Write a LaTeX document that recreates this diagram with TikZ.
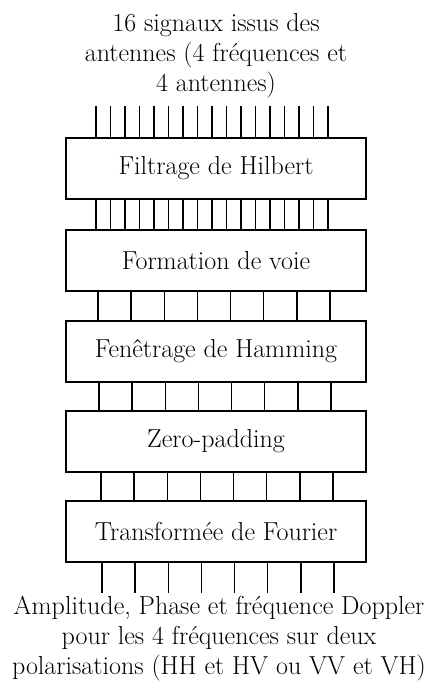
\documentclass[tikz,border=0pt]{standalone}
\begin{document}
\begin{tikzpicture}[x=1pt,y=-1pt,
  box/.style={draw,line width=1.8pt,minimum width=300pt,minimum height=61pt,inner sep=0pt,font=\fontsize{26}{30}\selectfont},
  txt/.style={align=center,inner sep=0pt,font=\fontsize{26}{30}\selectfont},
  tick/.style={line width=1.6pt}]
\useasboundingbox (0,0) rectangle (438,687);
\node[txt,anchor=north] (title) at (216,13) {16 signaux issus des\\antennes (4 fréquences et\\4 antennes)};
\node[box] (b1) at (216,168.5) {Filtrage de Hilbert};
\node[box] (b2) at (216,260.5) {Formation de voie};
\node[box] (b3) at (216,351.5) {Fenêtrage de Hamming};
\node[box] (b4) at (216,441.5) {Zero-padding};
\node[box] (b5) at (216,531.5) {Transformée de Fourier};
\node[txt,anchor=north] (out) at (219,596) {Amplitude, Phase et fréquence Doppler\\pour les 4 fréquences sur deux\\polarisations (HH et HV ou VV et VH)};
% 17 input lines
\foreach \k in {0,...,16}{
  \draw[tick] ([xshift=31pt+14.5pt*\k]b1.north west) -- ++(0,-31);
  \draw[tick] ([xshift=31pt+14.5pt*\k]b1.south west) -- ([xshift=31pt+14.5pt*\k]b2.north west);
}
\foreach \k in {0,...,7}{
  \draw[tick] ([xshift=33pt+33.1pt*\k]b2.south west) -- ([xshift=33pt+33.1pt*\k]b3.north west);
  \draw[tick] ([xshift=34pt+33.1pt*\k]b3.south west) -- ([xshift=34pt+33.1pt*\k]b4.north west);
  \draw[tick] ([xshift=36pt+33.1pt*\k]b4.south west) -- ([xshift=36pt+33.1pt*\k]b5.north west);
  \draw[tick] ([xshift=37pt+33.1pt*\k]b5.south west) -- ++(0,30);
}
\end{tikzpicture}
\end{document}
